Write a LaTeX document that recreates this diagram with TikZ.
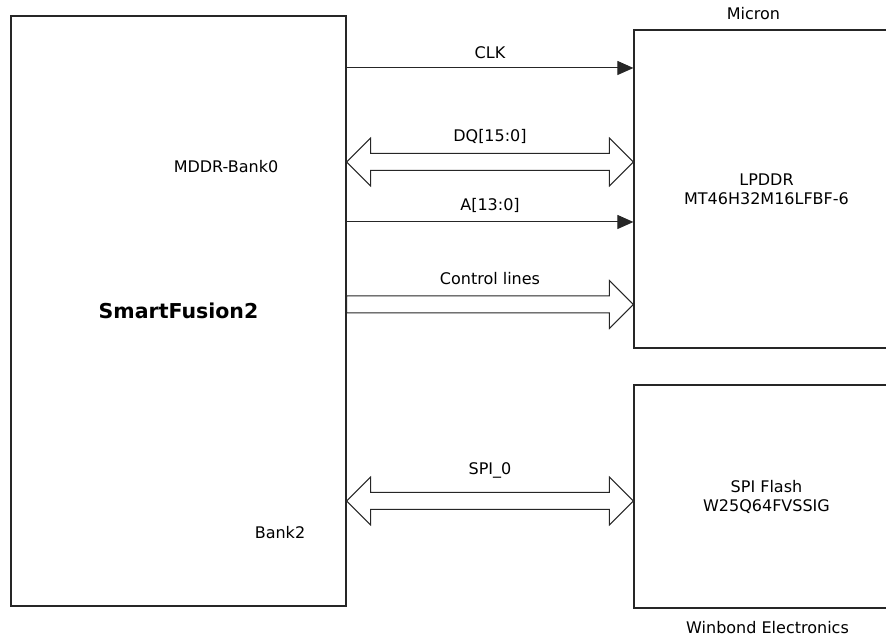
\documentclass[tikz,border=0pt]{standalone}
\usepackage{fontspec}
\setmainfont{DejaVu Sans}
\usetikzlibrary{positioning,calc,arrows.meta}

\tikzset{
  chipbox/.style={draw=black!85, line width=1.2pt, fill=white, inner sep=0pt,
    align=center, font=\fontsize{16}{19}\selectfont},
  sigline/.style={draw=black!85, line width=1pt, -{Triangle[length=16pt,width=14pt]}},
  busline/.style={draw=black!85, line width=1pt, fill=white, line join=miter},
  sigtext/.style={anchor=base, inner sep=0pt, font=\fontsize{16}{19}\selectfont},
}

% wide bus arrows, tip to tip
\newcommand{\busboth}[2]{%
  \draw[busline] (#1) -- ++(24,24) -- ++(0,-15.5) -- ($(#2)+(-24,8.5)$)
    -- ++(0,15.5) -- (#2) -- ++(-24,-24) -- ++(0,15.5)
    -- ($(#1)+(24,-8.5)$) -- ++(0,-15.5) -- cycle;}
\newcommand{\busright}[2]{%
  \draw[busline] ($(#1)+(0,8.5)$) -- ($(#2)+(-24,8.5)$) -- ++(0,15.5) -- (#2)
    -- ++(-24,-24) -- ++(0,15.5) -- ($(#1)+(0,-8.5)$) -- cycle;}

\begin{document}
\begin{tikzpicture}[x=1pt,y=1pt]

  \clip (0,0) rectangle (886,636);

  \node[chipbox, minimum width=335pt, minimum height=590pt,
        font=\bfseries\fontsize{20.5}{24}\selectfont] (sf) at (178.5,325) {SmartFusion2};
  \node[chipbox, minimum width=265pt, minimum height=318pt] (lpddr) at (766.5,447)
        {LPDDR\\MT46H32M16LFBF-6};
  \node[chipbox, minimum width=265pt, minimum height=223pt] (flash) at (766.5,139.5)
        {SPI Flash\\W25Q64FVSSIG};

  \node[sigtext] (micron)  at ($(lpddr.north west)+(120,10)$) {Micron};
  \node[sigtext] (winbond) at ($(flash.south)+(1,-25)$) {Winbond Electronics};
  \node[sigtext] (bank0)   at (226,463) {MDDR-Bank0};
  \node[sigtext] (bank2)   at (280,97)  {Bank2};

  \coordinate (clkL) at (sf.east |- 0,568);
  \coordinate (clkR) at (lpddr.west |- 0,568);
  \coordinate (dqL)  at (sf.east |- 0,474);
  \coordinate (dqR)  at (lpddr.west |- 0,474);
  \coordinate (adrL) at (sf.east |- 0,414);
  \coordinate (adrR) at (lpddr.west |- 0,414);
  \coordinate (ctlL) at (sf.east |- 0,331.5);
  \coordinate (ctlR) at (lpddr.west |- 0,331.5);
  \coordinate (spiL) at (sf.east |- 0,135);
  \coordinate (spiR) at (flash.west |- 0,135);

  \draw[sigline] (clkL) -- (clkR);
  \busboth{dqL}{dqR}
  \draw[sigline] (adrL) -- (adrR);
  \busright{ctlL}{ctlR}
  \busboth{spiL}{spiR}

  \node[sigtext] (clklbl) at ($(clkL)!.5!(clkR)+(0,9.5)$) {CLK};
  \node[sigtext] (dqlbl)  at ($(dqL)!.5!(dqR)+(0,20)$)    {DQ[15:0]};
  \node[sigtext] (adrlbl) at ($(adrL)!.5!(adrR)+(0,11)$)  {A[13:0]};
  \node[sigtext] (ctllbl) at ($(ctlL)!.5!(ctlR)+(0,19.5)$) {Control lines};
  \node[sigtext] (spilbl) at ($(spiL)!.5!(spiR)+(0,26)$)  {SPI\_0};

\end{tikzpicture}
\end{document}
